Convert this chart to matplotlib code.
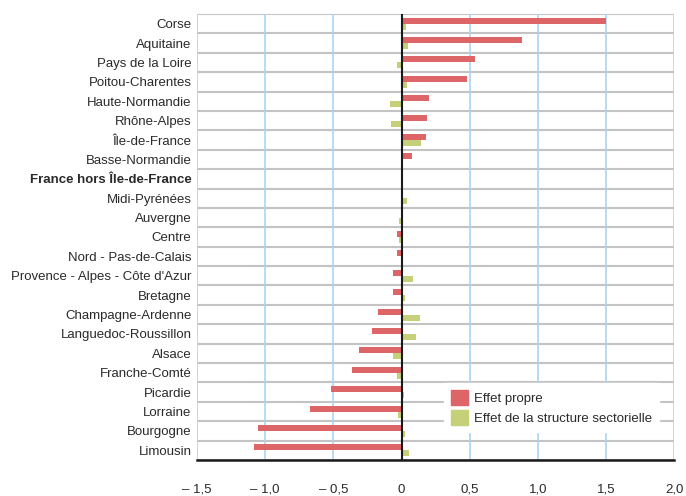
import numpy as np
import matplotlib.pyplot as plt
from matplotlib.patches import Patch

regions = ["Corse", "Aquitaine", "Pays de la Loire", "Poitou-Charentes",
           "Haute-Normandie", "Rhône-Alpes", "Île-de-France", "Basse-Normandie",
           "France hors Île-de-France", "Midi-Pyrénées", "Auvergne", "Centre",
           "Nord - Pas-de-Calais", "Provence - Alpes - Côte d'Azur", "Bretagne",
           "Champagne-Ardenne", "Languedoc-Roussillon", "Alsace", "Franche-Comté",
           "Picardie", "Lorraine", "Bourgogne", "Limousin"]
effet_propre = [1.50, 0.88, 0.54, 0.48, 0.20, 0.19, 0.18, 0.08,
                0.01, -0.007, -0.005, -0.037, -0.035, -0.06, -0.066,
                -0.17, -0.22, -0.31, -0.36, -0.52, -0.67, -1.05, -1.08]
effet_struct = [0.035, 0.05, -0.037, 0.043, -0.088, -0.08, 0.143, -0.003,
                0.0, 0.04, -0.02, -0.02, 0.0, 0.083, 0.024,
                0.134, 0.105, -0.066, -0.035, 0.015, -0.027, 0.022, 0.052]

red = "#dd6567"
green = "#c6d078"
txt = "#2a2a2a"

plt.rcParams['font.family'] = ['Liberation Sans', 'DejaVu Sans']

fig = plt.figure(figsize=(6.86, 4.96), dpi=100)
ax = fig.add_axes([0.2872, 0.0726, 0.6958, 0.8992])

n = len(regions)
y = np.arange(n)
h = 0.31
ax.barh(y - h / 2, effet_propre, height=h, color=red, zorder=3)
ax.barh(y + h / 2, effet_struct, height=h, color=green, zorder=3)

ax.set_xlim(-1.5, 2.0)
ax.set_ylim(n - 0.5, -0.5)

# grid
for b in np.arange(-0.5, n, 1.0):
    ax.axhline(b, color="#c3c3c3", lw=1.5, zorder=1)
for xv in np.arange(-1.5, 2.01, 0.5):
    ax.axvline(xv, color="#a9d5f2", lw=1.2, zorder=1)
ax.axvline(0, color="#1a1a1a", lw=1.5, zorder=4)

for s in ["top", "right", "left"]:
    ax.spines[s].set_visible(False)
ax.spines["bottom"].set_color("#1a1a1a")
ax.spines["bottom"].set_linewidth(1.8)
ax.spines["bottom"].set_zorder(5)

ax.set_yticks(y)
ax.set_yticklabels(regions, fontsize=9.5, color=txt)
for lab in ax.get_yticklabels():
    if lab.get_text() == "France hors Île-de-France":
        lab.set_fontweight("bold")
xt = np.arange(-1.5, 2.01, 0.5)
ax.set_xticks(xt)
ax.set_xticklabels([("– " if v < 0 else "") + (("%.1f" % abs(v)).replace(".", ",") if v != 0 else "0") for v in xt],
                   fontsize=9.5, color=txt)
ax.tick_params(axis="y", length=0, pad=4)
ax.tick_params(axis="x", length=0, pad=17)

handles = [Patch(color=red), Patch(color=green)]
leg = ax.legend(handles, ["Effet propre", "Effet de la structure sectorielle"],
                loc="lower right", bbox_to_anchor=(0.982, 0.048), frameon=True,
                fancybox=False, edgecolor="white", framealpha=1, fontsize=9.5,
                handlelength=1.3, handleheight=1.4, handletextpad=0.5,
                labelspacing=0.4, borderpad=0.5)
for t in leg.get_texts():
    t.set_color(txt)
leg.set_zorder(6)

fig.savefig("out.png", dpi=100)
